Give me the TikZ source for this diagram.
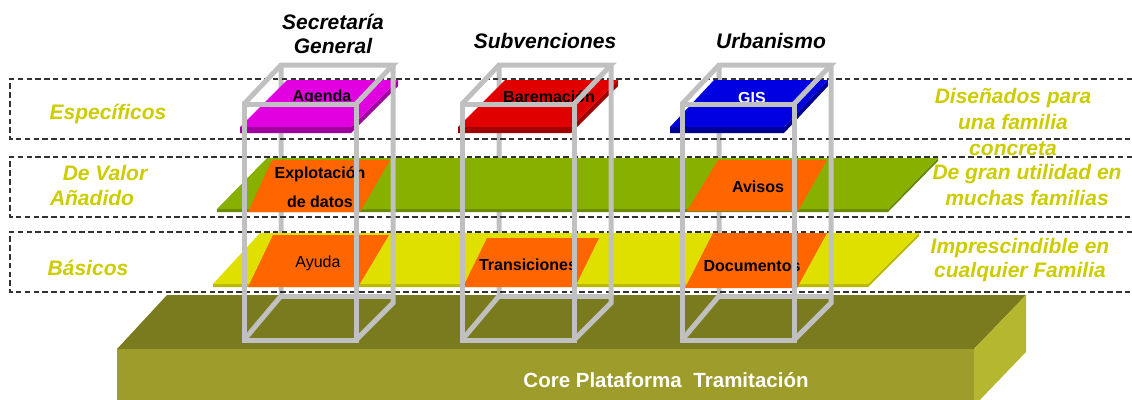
\documentclass[tikz,border=0pt]{standalone}
\usepackage{fontspec}
\setmainfont{Liberation Sans}
\definecolor{basetop}{RGB}{122,122,31}
\definecolor{basefront}{RGB}{158,156,42}
\definecolor{baseside}{RGB}{181,184,47}
\definecolor{greenL}{RGB}{136,176,0}
\definecolor{greenD}{RGB}{104,138,0}
\definecolor{yellowL}{RGB}{224,224,0}
\definecolor{yellowD}{RGB}{184,184,0}
\definecolor{orangeT}{RGB}{255,102,0}
\definecolor{magT}{RGB}{224,0,224}
\definecolor{magD}{RGB}{160,0,160}
\definecolor{redT}{RGB}{224,0,0}
\definecolor{redD}{RGB}{160,0,0}
\definecolor{blueT}{RGB}{0,0,224}
\definecolor{blueD}{RGB}{0,0,150}
\definecolor{cubegray}{RGB}{192,192,192}
\definecolor{lblyellow}{RGB}{204,204,0}
\definecolor{dashcol}{RGB}{50,50,50}
\newcommand\bigitfont{\fontsize{21}{25}\selectfont\bfseries\itshape}
\newcommand\tilefontb{\fontsize{16}{19}\selectfont\bfseries}
\newcommand\tilefontr{\fontsize{16}{19}\selectfont}
\newcommand\corefont{\fontsize{20.5}{24}\selectfont\bfseries}
\tikzset{
  dashbox/.style={draw=dashcol, line width=1.3pt, dash pattern=on 5.5pt off 3.3pt},
  cubeline/.style={draw=cubegray, line width=5pt},
  lbl/.style={inner sep=0pt, anchor=base, text=lblyellow, font=\bigitfont},
  ttl/.style={inner sep=0pt, anchor=base, text=black, font=\bigitfont},
  tiletext/.style={inner sep=0pt, anchor=base, text=black, font=\tilefontb},
  tiletextr/.style={inner sep=0pt, anchor=base, text=black, font=\tilefontr},
  tile/.style={fill=orangeT},
}
\newcommand\cubehidden[1]{%
  \pgfmathsetmacro\cubFL{#1}\pgfmathsetmacro\cubBL{#1+37}%
  \pgfmathsetmacro\cubBR{#1+149}%
  \draw[cubeline] (\cubBL,65) -- (\cubBL,296) -- (\cubFL,340);
  \draw[cubeline] (\cubBL,296) -- (\cubBR,296);
}
\newcommand\cubevisible[1]{%
  \pgfmathsetmacro\cubFL{#1}\pgfmathsetmacro\cubFR{#1+112}%
  \pgfmathsetmacro\cubBL{#1+37}\pgfmathsetmacro\cubBR{#1+149}%
  \draw[cubeline] (\cubFL,104) rectangle (\cubFR,340);
  \draw[cubeline] (\cubFL,104) -- (\cubBL,65) -- (\cubBR,65) -- (\cubFR,104);
  \draw[cubeline] (\cubBR,65) -- (\cubBR,303) -- (\cubFR,340);
}
\begin{document}
\begin{tikzpicture}[x=1pt,y=-1pt]
\useasboundingbox (0,0) rectangle (1132,399);
% base platform
\fill[basetop] (167,295) -- (1026,295) -- (974,349) -- (117,349) -- cycle;
\fill[basefront] (117,349) rectangle (974,402);
\fill[baseside] (974,349) -- (1026,295) -- (1026,352) -- (974,406) -- cycle;
% hidden cube edges
\cubehidden{244}
\cubehidden{462}
\cubehidden{682}
% green layer
\fill[greenD] (217,209) -- (888,209) -- (938,158) -- (938,161) -- (888,212) -- (217,212) -- cycle;
\fill[greenL] (217,209) -- (888,209) -- (938,158) -- (267,158) -- cycle;
% yellow layer
\fill[yellowD] (213,284) -- (868,284) -- (919,233) -- (919,236) -- (868,287) -- (213,287) -- cycle;
\fill[yellowL] (213,284) -- (868,284) -- (919,233) -- (260,233) -- cycle;
% orange tiles
\fill[tile] (248,212) -- (360,212) -- (390,160) -- (272,160) -- cycle;
\fill[tile] (687,211) -- (798,211) -- (827,160) -- (718,160) -- cycle;
\fill[tile] (248,287) -- (358,287) -- (389,235) -- (273,235) -- cycle;
\fill[tile] (463,287) -- (575,287) -- (599,238) -- (487,238) -- cycle;
\fill[tile] (685,288) -- (797,288) -- (827,233) -- (713,233) -- cycle;
% specific slabs
\fill[magD] (240,127) -- (351,127) -- (398,80) -- (398,86) -- (351,133) -- (240,133) -- cycle;
\fill[magT] (240,127) -- (351,127) -- (398,80) -- (287,80) -- cycle;
\fill[redD] (458,127) -- (571,127) -- (618,80) -- (618,86) -- (571,133) -- (458,133) -- cycle;
\fill[redT] (458,127) -- (571,127) -- (618,80) -- (505,80) -- cycle;
\fill[blueD] (670,127) -- (784,127) -- (828,80) -- (828,86) -- (784,133) -- (670,133) -- cycle;
\fill[blueT] (670,127) -- (784,127) -- (828,80) -- (714,80) -- cycle;
% dashed row boxes
\draw[dashbox] (1132,79) -- (10,79) -- (10,139) -- (1132,139);
\draw[dashbox] (1132,157) -- (10,157) -- (10,217) -- (1132,217);
\draw[dashbox] (1132,232) -- (10,232) -- (10,292) -- (1132,292);
% tile texts
\node[tiletext] (agenda) at (322,101) {Agenda};
\node[tiletext] (baremacion) at (549,102) {Baremación};
\node[tiletext, text=white] (gis) at (752,103) {GIS};
\node[tiletext] (explot) at (320,178) {Explotación};
\node[tiletext] (datos) at (320,207) {de datos};
\node[tiletext] (avisos) at (758,192) {Avisos};
\node[tiletextr] (ayuda) at (318,267) {Ayuda};
\node[tiletext] (transic) at (528,270) {Transiciones};
\node[tiletext] (docs) at (752,271) {Documentos};
% visible cube edges
\cubevisible{244}
\cubevisible{462}
\cubevisible{682}
% platform text
\node[inner sep=0pt, anchor=base, text=white, font=\corefont] (core) at (666,387) {Core Plataforma\hspace{6pt} Tramitación};
% column titles
\node[ttl] (t1a) at (333,29) {Secretaría};
\node[ttl] (t1b) at (333,53) {General};
\node[ttl] (t2) at (545,48) {Subvenciones};
\node[ttl] (t3) at (771,48) {Urbanismo};
% left labels
\node[lbl] (l1) at (108,119) {Específicos};
\node[lbl] (l2a) at (105,180) {De Valor};
\node[lbl] (l2b) at (92,205) {Añadido};
\node[lbl] (l3) at (88,275) {Básicos};
% right labels
\node[lbl] (r1a) at (1013,103) {Diseñados para};
\node[lbl] (r1b) at (1013,129) {una familia};
\node[lbl] (r1c) at (1013,155) {concreta};
\node[lbl] (r2a) at (1027,179) {De gran utilidad en};
\node[lbl] (r2b) at (1027,205) {muchas familias};
\node[lbl] (r3a) at (1020,253) {Imprescindible en};
\node[lbl] (r3b) at (1020,277) {cualquier Familia};
\end{tikzpicture}
\end{document}
